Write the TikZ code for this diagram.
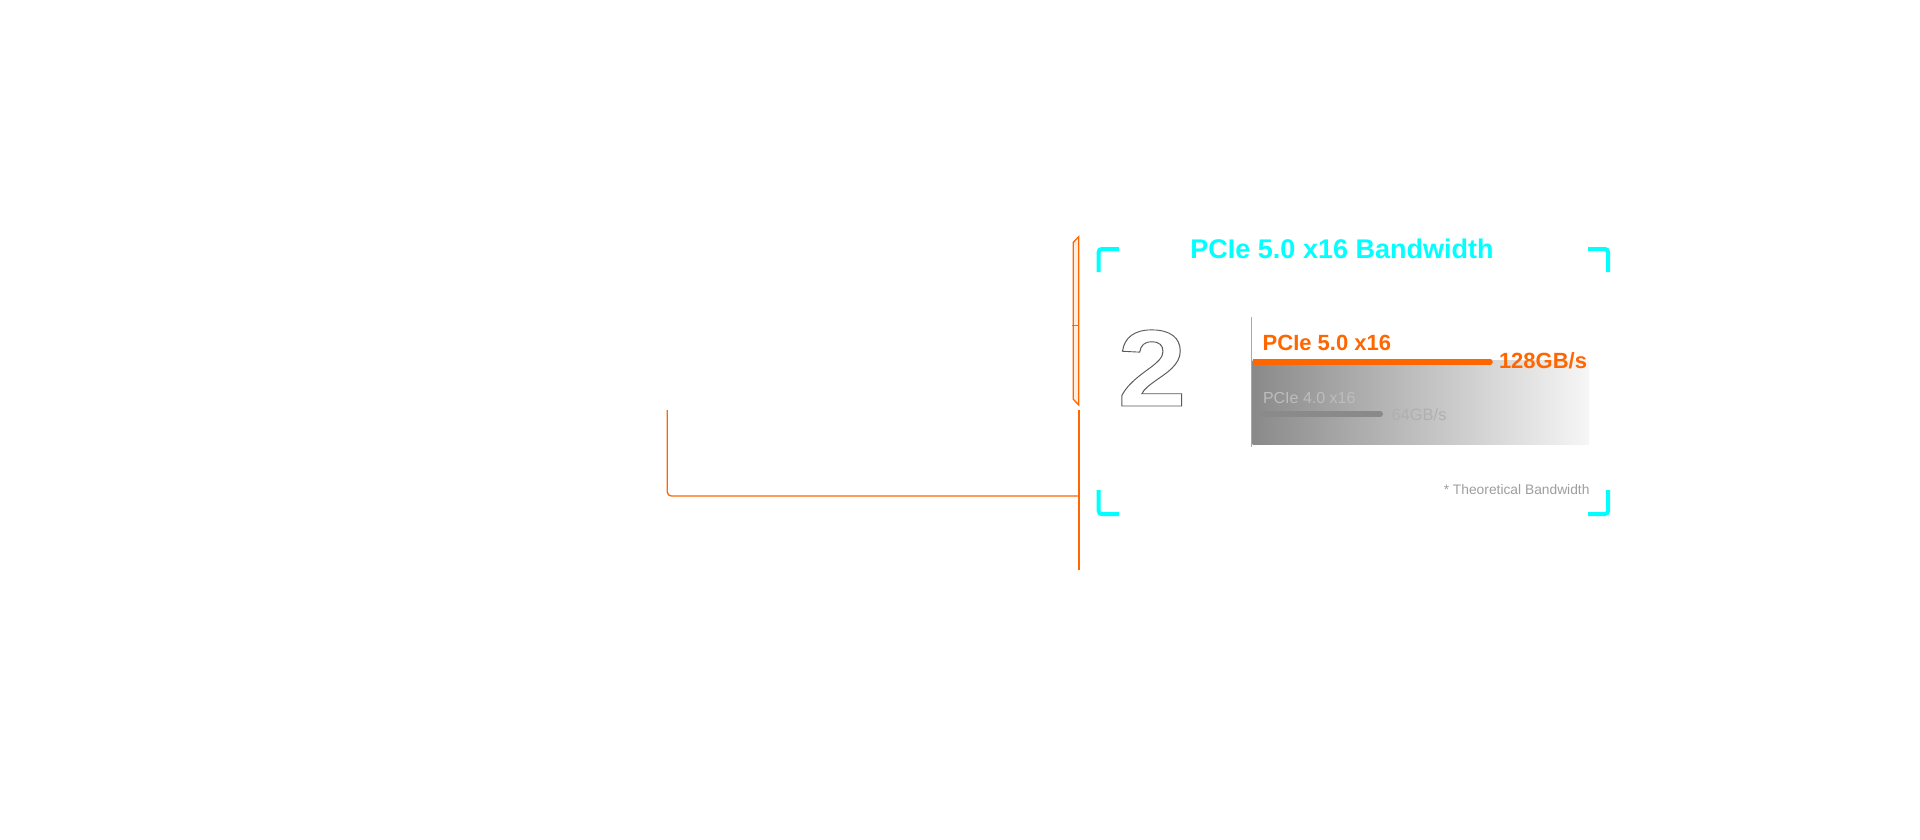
\documentclass[tikz,border=0pt]{standalone}
\usepackage{fontspec}
\setmainfont{Liberation Sans}
\definecolor{og}{HTML}{FF6600}
\definecolor{cy}{HTML}{00FFFF}
\definecolor{twoc}{HTML}{5A5A5A}
\definecolor{axisc}{HTML}{A8A8A8}
\definecolor{gA}{HTML}{8A8A8A}
\definecolor{gB}{HTML}{F6F6F6}
\definecolor{tfour}{HTML}{BDBDBD}
\definecolor{tsixfour}{HTML}{B0B0B0}
\definecolor{tnote}{HTML}{9E9E9E}
\definecolor{gbar}{HTML}{8A8A8A}
\tikzset{
  txt/.style={inner sep=0pt, outer sep=0pt},
  bracket/.style={draw=cy, line width=4pt, rounded corners=3pt},
  orline/.style={draw=og, line width=1.3pt},
}
\begin{document}
\begin{tikzpicture}[x=1pt,y=-1pt]
\path[use as bounding box, fill=white] (0,0) rectangle (1920,840);

% orange frame lines
\filldraw[orline, fill=og!12, line join=miter] (1078.8,236.7) -- (1073.3,242.3) -- (1073.3,399.3) -- (1078.8,405) -- cycle;
\draw[orline, line width=0.9pt] (1071.7,325) -- (1078.3,325);
\coordinate (vtop) at (1078.6,410);
\coordinate (vbot) at (1078.6,570);
\draw[orline, line width=1.8pt] (vtop) -- (vbot);
\coordinate (ltop) at (667.3,410);
\coordinate (lend) at (1078.6,496);
\draw[orline, rounded corners=4pt] (ltop) |- (lend);

% cyan brackets
\draw[bracket] (1098.7,272) |- (1119,249);
\draw[bracket] (1588,249) -| (1608,272);
\draw[bracket] (1098.7,490) |- (1119,514);
\draw[bracket] (1588,514) -| (1608,490);

% title
\node[txt, anchor=base, text=cy, font=\fontsize{27}{27}\selectfont\bfseries] (title) at (1342,258.3) {PCIe 5.0 x16 Bandwidth};

% big outlined 2
\node[txt, anchor=base, text=twoc] (two) at (1152,406) {\scalebox{1.14}[1]{\fontsize{109}{109}\selectfont\bfseries\special{pdf:literal direct 1 Tr 0.9 w}2\special{pdf:literal direct 0 Tr}}};

% chart
\shade[left color=gA, right color=gB] (1252.5,360) rectangle (1589,444);
\draw[og, line width=6.5pt] (1252.5,362) -- (1489.5,362);
\fill[og] (1489.5,362) circle (3.25);
\draw[axisc, line width=1.6pt] (1251.5,317.3) -- (1251.5,447.3);
\draw[gbar, line width=6pt, line cap=round] (1262,414) -- (1380,414);

\node[txt, anchor=base west, text=og, font=\fontsize{22}{22}\selectfont\bfseries] (p5) at (1262.7,350.7) {PCIe 5.0 x16};
\node[txt, anchor=base west, text=og, font=\fontsize{22}{22}\selectfont\bfseries] (bw5) at (1499,368.3) {128GB/s};
\node[txt, anchor=base west, text=tfour, font=\fontsize{16}{16}\selectfont] (p4) at (1263,403.3) {PCIe 4.0 x16};
\node[txt, anchor=base west, text=tsixfour, font=\fontsize{16.5}{16.5}\selectfont] (bw4) at (1391.5,420.7) {64GB/s};
\node[txt, anchor=base east, text=tnote, font=\fontsize{13.8}{13.8}\selectfont] (note) at (1589.5,494) {* Theoretical Bandwidth};
\end{tikzpicture}
\end{document}
